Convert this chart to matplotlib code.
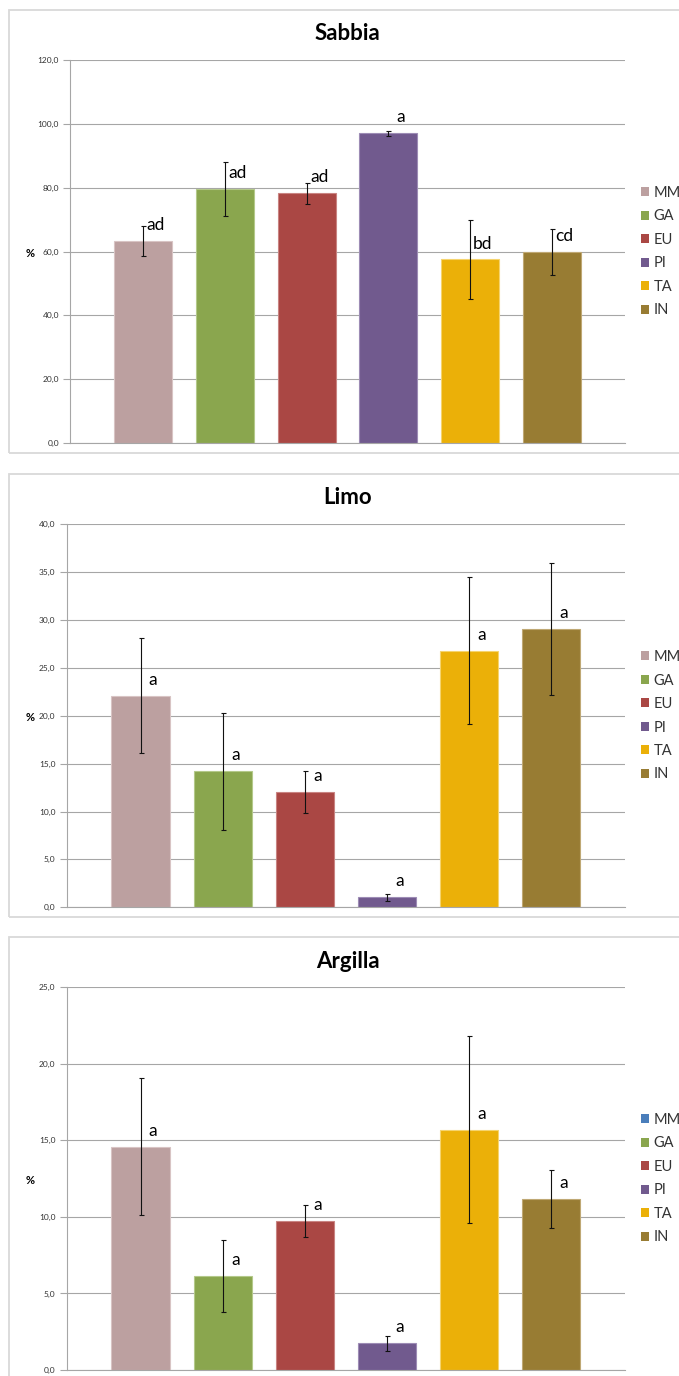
import matplotlib
matplotlib.use("Agg")
import matplotlib.pyplot as plt
from matplotlib.patches import Rectangle, Patch
import numpy as np

plt.rcParams["font.family"] = ["Lato", "DejaVu Sans"]

# ---- data -------------------------------------------------------------
groups = ["MM", "GA", "EU", "PI", "TA", "IN"]
bar_colors = ["#BCA0A0", "#8AA64E", "#AA4744", "#715A8E", "#EBB008", "#987C33"]
edge_colors = ["#D8C4C4", "#B4C98A", "#C98482", "#9D8CB5", "#F5D46E", "#BFA874"]
legend_colors_argilla = ["#4A7EBB", "#8AA64E", "#AA4744", "#715A8E", "#EBB008", "#987C33"]

sabbia_mean = [63.3, 79.6, 78.2, 97.1, 57.5, 59.7]
sabbia_err = [4.7, 8.4, 3.2, 0.8, 12.5, 7.2]
sabbia_letters = ["ad", "ad", "ad", "a", "bd", "cd"]

limo_mean = [22.1, 14.2, 12.0, 1.05, 26.8, 29.1]
limo_err = [6.0, 6.1, 2.2, 0.37, 7.7, 6.9]
limo_letters = ["a", "a", "a", "a", "a", "a"]

argilla_mean = [14.6, 6.15, 9.75, 1.75, 15.7, 11.15]
argilla_err = [4.5, 2.35, 1.05, 0.5, 6.1, 1.9]
argilla_letters = ["a", "a", "a", "a", "a", "a"]

# ---- layout (pixels) --------------------------------------------------
W, H = 679, 1376
fig = plt.figure(figsize=(W / 100, H / 100), dpi=100)
fig.patch.set_facecolor("white")


def frac_rect(l, t, r, b):
    return [l / W, 1 - b / H, (r - l) / W, (b - t) / H]


grid_c = "#A6A6A6"
panels = [
    dict(title="Sabbia", mean=sabbia_mean, err=sabbia_err, letters=sabbia_letters,
         ymax=120, step=20, ax_box=(70, 60, 625, 443), frame=(9, 10, 700, 453),
         title_y=34, legend_colors=bar_colors),
    dict(title="Limo", mean=limo_mean, err=limo_err, letters=limo_letters,
         ymax=40, step=5, ax_box=(66.7, 524.3, 625, 907.3), frame=(9, 474, 700, 917),
         title_y=498, legend_colors=bar_colors),
    dict(title="Argilla", mean=argilla_mean, err=argilla_err, letters=argilla_letters,
         ymax=25, step=5, ax_box=(66.7, 987.3, 625, 1370), frame=(9, 937, 700, 1400),
         title_y=962, legend_colors=legend_colors_argilla),
]

x = np.arange(len(groups))

for p in panels:
    # chart frame
    fl, ft, fr, fb = p["frame"]
    fig.add_artist(Rectangle((fl / W, 1 - fb / H), (fr - fl) / W, (fb - ft) / H,
                             transform=fig.transFigure, fill=False,
                             edgecolor="#D9D9D9", linewidth=1.3))

    ax = fig.add_axes(frac_rect(*p["ax_box"]))
    ax.bar(x, p["mean"], width=0.71, color=bar_colors, edgecolor=edge_colors,
           linewidth=0.8, zorder=2)
    ax.errorbar(x, p["mean"], yerr=p["err"], fmt="none", ecolor="#111111",
                elinewidth=0.8, capsize=1.8, capthick=0.8, zorder=3)
    for xi, m, lab in zip(x, p["mean"], p["letters"]):
        ax.annotate(lab, (xi, m), xytext=(9, 11.5), textcoords="offset points",
                    ha="center", va="center", fontsize=12.5, color="black", zorder=4)

    ax.set_xlim(-0.9, 5.9)
    ax.set_ylim(0, p["ymax"])
    ticks = np.arange(0, p["ymax"] + p["step"] / 2, p["step"])
    ax.set_yticks(ticks)
    ax.set_yticklabels([f"{t:.1f}".replace(".", ",") for t in ticks],
                       fontsize=6, color="#333333")
    ax.set_xticks([])
    ax.yaxis.grid(True, color=grid_c, linewidth=0.8)
    ax.set_axisbelow(True)
    for s in ("top", "right"):
        ax.spines[s].set_visible(False)
    for s in ("left", "bottom"):
        ax.spines[s].set_color(grid_c)
        ax.spines[s].set_linewidth(0.8)
    ax.tick_params(axis="y", direction="out", length=5, width=0.8, color=grid_c, pad=3)

    al, at, ar, ab = p["ax_box"]
    fig.text(30 / W, 1 - ((at + ab) / 2 + 2) / H, "%", ha="center", va="center",
             fontsize=8, fontweight="bold")
    fig.text(347.5 / W, 1 - p["title_y"] / H, p["title"], ha="center", va="center",
             fontsize=16, fontweight="bold")

    handles = [Patch(facecolor=c, edgecolor="none") for c in p["legend_colors"]]
    ax.legend(handles, groups, loc="center left", bbox_to_anchor=(1 + 16 / (ar - al), 0.5),
              frameon=False, fontsize=10.5, handlelength=0.58, handleheight=0.58,
              handletextpad=0.3, labelspacing=0.65, borderaxespad=0, borderpad=0,
              labelcolor="#333333")

fig.savefig("out.png", dpi=100, facecolor="white")
